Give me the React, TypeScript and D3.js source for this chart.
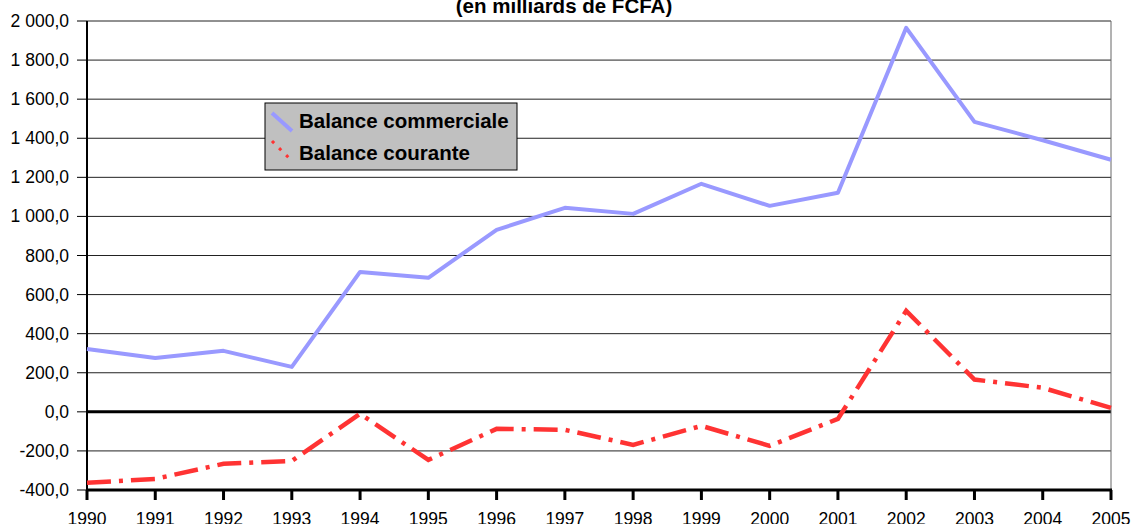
import React from "react";
import * as d3 from "d3";

const years = [1990,1991,1992,1993,1994,1995,1996,1997,1998,1999,2000,2001,2002,2003,2004,2005];
const commerciale = [322,276,312,230,716,686,931,1044,1013,1167,1054,1121,1965,1484,1390,1290];
const courante = [-363,-343,-266,-251,-10,-246,-87,-92,-169,-72,-174,-36,517,165,123,20];
const yTicks = [-400,-200,0,200,400,600,800,1000,1200,1400,1600,1800,2000];
const seriesNames = ["Balance commerciale", "Balance courante"];
const title = "(en milliards de FCFA)";

const W = 1131, H = 524;
const left = 87, right = 1111, top = 21, bottom = 490;

function fmt(v: number) {
  const s = Math.abs(v).toFixed(1).replace(".", ",");
  const [i, d] = s.split(",");
  const grouped = i.replace(/\B(?=(\d{3})+(?!\d))/g, "\u00a0");
  return (v < 0 ? "-" : "") + grouped + "," + d;
}

export default function App() {
  const x = d3.scaleLinear().domain([1990, 2005]).range([left, right]);
  const y = d3.scaleLinear().domain([-400, 2000]).range([bottom, top]);
  const line = d3.line<number>().x((_, i) => x(years[i])).y((d) => y(d));
  const font = "Arial, 'Liberation Sans', sans-serif";
  return (
    <svg width={W} height={H} style={{ position: "absolute", left: 0, top: 0, background: "#fff" }} fontFamily={font}>
      <text x={564} y={12.5} textAnchor="middle" fontWeight="bold" fontSize={20.5}>{title}</text>
      {yTicks.map((t) => (
        <g key={t}>
          <line x1={left} x2={right} y1={y(t)} y2={y(t)} stroke={t === 0 ? "#000" : "#222"} strokeWidth={t === 0 ? 3 : 1} />
          <line x1={left - 10} x2={left} y1={y(t)} y2={y(t)} stroke="#000" strokeWidth={1} />
          <text x={left - 18} y={y(t) + 6} textAnchor="end" fontSize={17.5}>{fmt(t)}</text>
        </g>
      ))}
      <line x1={right} x2={right} y1={top} y2={bottom} stroke="#666" strokeWidth={1} />
      <line x1={left} x2={left} y1={top} y2={bottom} stroke="#000" strokeWidth={2} />
      <line x1={left} x2={right + 1} y1={bottom} y2={bottom} stroke="#000" strokeWidth={3} />
      {years.map((yr) => (
        <g key={yr}>
          <line x1={x(yr)} x2={x(yr)} y1={bottom} y2={bottom + 10} stroke="#000" strokeWidth={3} />
          <text x={x(yr)} y={525} textAnchor="middle" fontSize={17.5}>{yr}</text>
        </g>
      ))}
      <path d={line(commerciale) || ""} fill="none" stroke="#9999FF" strokeWidth={4} strokeLinejoin="round" />
      <path d={line(courante) || ""} fill="none" stroke="#FF3333" strokeWidth={4.5} strokeDasharray="24 8 4 8" />
      <g>
        <rect x={265} y={103} width={252} height={67} fill="#C0C0C0" stroke="#000" strokeWidth={1} />
        <line x1={272} y1={113} x2={292} y2={131} stroke="#9999FF" strokeWidth={4} />
        <line x1={272} y1={141} x2={292} y2={161} stroke="#FF3333" strokeWidth={3} strokeDasharray="3 7" />
        <text x={299} y={127.5} fontWeight="bold" fontSize={20.5}>{seriesNames[0]}</text>
        <text x={299} y={159.5} fontWeight="bold" fontSize={20.5}>{seriesNames[1]}</text>
      </g>
    </svg>
  );
}
